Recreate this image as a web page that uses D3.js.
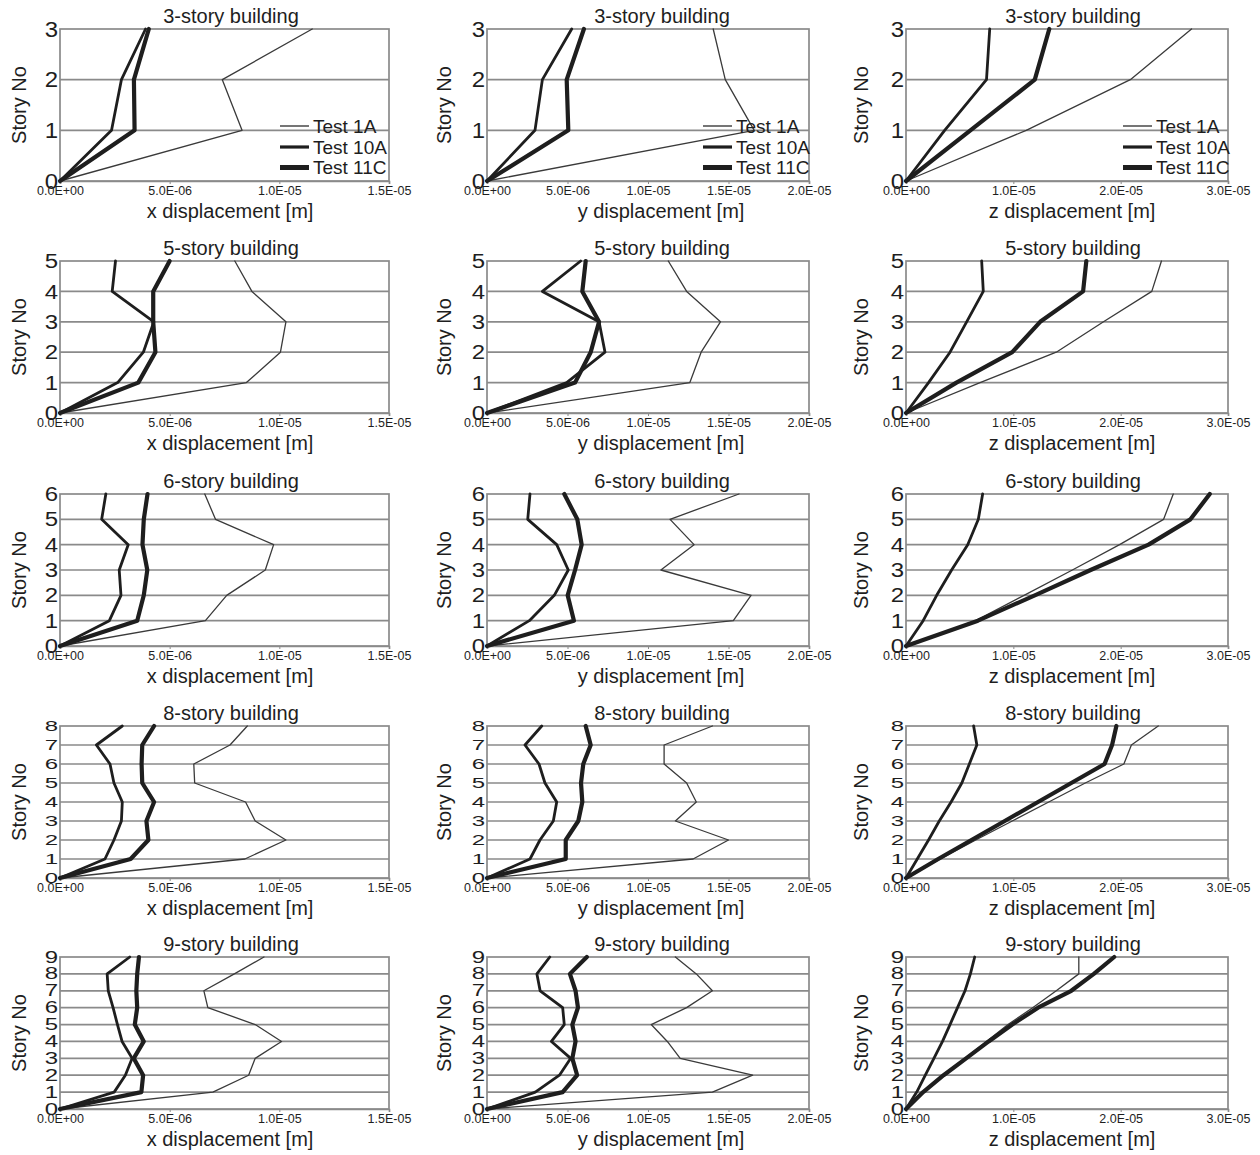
<!DOCTYPE html>
<html><head><meta charset="utf-8">
<script src="https://cdn.jsdelivr.net/npm/d3@7"></script>
<style>
body{margin:0;background:#fff}
svg{display:block}
text{font-family:"Liberation Sans",Arial,sans-serif;fill:#1e1e1e}
</style>
</head><body>
<svg id="c" width="1260" height="1155"></svg>
<script>
// ---------- DATA ----------
const seriesNames = ["Test 1A", "Test 10A", "Test 11C"];
const buildings = [3, 5, 6, 8, 9];
const directions = ["x", "y", "z"];
const xMaxByDir = [1.5e-5, 2.0e-5, 3.0e-5];
const xTickValsX = [0, 5e-6, 1e-5, 1.5e-5];
const xTickValsY = [0, 5e-6, 1e-5, 1.5e-5, 2e-5];
const xTickValsZ = [0, 1e-5, 2e-5, 3e-5];
const xTickLabelsX = ["0.0E+00", "5.0E-06", "1.0E-05", "1.5E-05"];
const xTickLabelsY = ["0.0E+00", "5.0E-06", "1.0E-05", "1.5E-05", "2.0E-05"];
const xTickLabelsZ = ["0.0E+00", "1.0E-05", "2.0E-05", "3.0E-05"];

// 3-story
const x3_1A  = [0, 8.3e-6, 7.4e-6, 11.5e-6];
const x3_10A = [0, 2.35e-6, 2.8e-6, 3.9e-6];
const x3_11C = [0, 3.4e-6, 3.37e-6, 4.05e-6];
const y3_1A  = [0, 16.6e-6, 14.8e-6, 14.05e-6];
const y3_10A = [0, 2.98e-6, 3.44e-6, 5.26e-6];
const y3_11C = [0, 5.05e-6, 4.95e-6, 6.02e-6];
const z3_1A  = [0, 11.2e-6, 20.9e-6, 26.6e-6];
const z3_10A = [0, 3.6e-6, 7.5e-6, 7.8e-6];
const z3_11C = [0, 6.0e-6, 12.0e-6, 13.35e-6];
// 5-story
const x5_1A  = [0, 8.5e-6, 10.05e-6, 10.3e-6, 8.75e-6, 7.97e-6];
const x5_10A = [0, 2.63e-6, 3.8e-6, 4.28e-6, 2.38e-6, 2.53e-6];
const x5_11C = [0, 3.57e-6, 4.35e-6, 4.25e-6, 4.25e-6, 5.0e-6];
const y5_1A  = [0, 12.6e-6, 13.3e-6, 14.5e-6, 12.4e-6, 11.26e-6];
const y5_10A = [0, 4.95e-6, 7.33e-6, 6.96e-6, 3.44e-6, 5.82e-6];
const y5_11C = [0, 5.47e-6, 6.44e-6, 6.96e-6, 5.92e-6, 6.13e-6];
const z5_1A  = [0, 6.9e-6, 14.0e-6, 18.4e-6, 22.9e-6, 23.8e-6];
const z5_10A = [0, 2.1e-6, 4.1e-6, 5.65e-6, 7.2e-6, 7.05e-6];
const z5_11C = [0, 4.7e-6, 9.9e-6, 12.5e-6, 16.5e-6, 16.8e-6];
// 6-story
const x6_1A  = [0, 6.63e-6, 7.6e-6, 9.36e-6, 9.74e-6, 7.09e-6, 6.6e-6];
const x6_10A = [0, 2.25e-6, 2.78e-6, 2.7e-6, 3.11e-6, 1.9e-6, 2.09e-6];
const x6_11C = [0, 3.52e-6, 3.82e-6, 3.98e-6, 3.76e-6, 3.82e-6, 3.99e-6];
const y6_1A  = [0, 15.3e-6, 16.4e-6, 10.8e-6, 12.86e-6, 11.37e-6, 15.65e-6];
const y6_10A = [0, 2.63e-6, 4.18e-6, 5.05e-6, 4.33e-6, 2.53e-6, 2.67e-6];
const y6_11C = [0, 5.4e-6, 5.01e-6, 5.47e-6, 5.88e-6, 5.61e-6, 4.8e-6];
const z6_1A  = [0, 6.5e-6, 11.0e-6, 15.5e-6, 19.9e-6, 24.0e-6, 24.9e-6];
const z6_10A = [0, 1.6e-6, 2.86e-6, 4.25e-6, 5.75e-6, 6.74e-6, 7.14e-6];
const z6_11C = [0, 6.7e-6, 12.0e-6, 17.2e-6, 22.6e-6, 26.5e-6, 28.3e-6];
// 8-story
const x8_1A  = [0, 8.43e-6, 10.3e-6, 8.9e-6, 8.46e-6, 6.14e-6, 6.1e-6, 7.75e-6, 8.54e-6];
const x8_10A = [0, 2.05e-6, 2.46e-6, 2.8e-6, 2.84e-6, 2.46e-6, 2.28e-6, 1.66e-6, 2.84e-6];
const x8_11C = [0, 3.22e-6, 4.03e-6, 3.94e-6, 4.29e-6, 3.75e-6, 3.72e-6, 3.75e-6, 4.29e-6];
const y8_1A  = [0, 12.8e-6, 15.0e-6, 11.7e-6, 13.0e-6, 12.4e-6, 11.0e-6, 11.0e-6, 14.0e-6];
const y8_10A = [0, 2.67e-6, 3.29e-6, 4.12e-6, 4.33e-6, 3.6e-6, 3.23e-6, 2.36e-6, 3.4e-6];
const y8_11C = [0, 4.89e-6, 4.89e-6, 5.67e-6, 5.92e-6, 5.84e-6, 5.98e-6, 6.44e-6, 6.13e-6];
const z8_1A  = [0, 3.2e-6, 6.5e-6, 9.9e-6, 13.3e-6, 16.7e-6, 20.3e-6, 21.0e-6, 23.5e-6];
const z8_10A = [0, 1.05e-6, 2.1e-6, 3.1e-6, 4.2e-6, 5.2e-6, 5.9e-6, 6.6e-6, 6.3e-6];
const z8_11C = [0, 3.0e-6, 6.1e-6, 9.2e-6, 12.3e-6, 15.4e-6, 18.5e-6, 19.2e-6, 19.6e-6];
// 9-story
const x9_1A  = [0, 6.97e-6, 8.6e-6, 8.9e-6, 10.1e-6, 8.9e-6, 6.74e-6, 6.56e-6, 7.95e-6, 9.3e-6];
const x9_10A = [0, 2.47e-6, 2.98e-6, 3.29e-6, 2.83e-6, 2.62e-6, 2.42e-6, 2.2e-6, 2.15e-6, 3.18e-6];
const x9_11C = [0, 3.71e-6, 3.79e-6, 3.36e-6, 3.82e-6, 3.41e-6, 3.52e-6, 3.48e-6, 3.52e-6, 3.6e-6];
const y9_1A  = [0, 14.0e-6, 16.5e-6, 12.0e-6, 11.2e-6, 10.2e-6, 12.4e-6, 14.0e-6, 13.0e-6, 11.7e-6];
const y9_10A = [0, 3.0e-6, 4.5e-6, 5.2e-6, 4.0e-6, 4.8e-6, 4.7e-6, 3.3e-6, 3.1e-6, 3.9e-6];
const y9_11C = [0, 4.7e-6, 5.6e-6, 5.3e-6, 5.5e-6, 5.3e-6, 5.65e-6, 5.5e-6, 5.15e-6, 6.2e-6];
const z9_1A  = [0, 1.7e-6, 3.5e-6, 5.5e-6, 7.5e-6, 9.5e-6, 11.8e-6, 14.0e-6, 16.1e-6, 16.1e-6];
const z9_10A = [0, 1.0e-6, 1.8e-6, 2.6e-6, 3.4e-6, 4.1e-6, 4.8e-6, 5.5e-6, 6.0e-6, 6.4e-6];
const z9_11C = [0, 1.6e-6, 3.5e-6, 5.6e-6, 7.7e-6, 9.9e-6, 12.3e-6, 15.4e-6, 17.5e-6, 19.4e-6];

// table built from the arrays above
const dataTable = [
  [[x3_1A, x3_10A, x3_11C], [y3_1A, y3_10A, y3_11C], [z3_1A, z3_10A, z3_11C]],
  [[x5_1A, x5_10A, x5_11C], [y5_1A, y5_10A, y5_11C], [z5_1A, z5_10A, z5_11C]],
  [[x6_1A, x6_10A, x6_11C], [y6_1A, y6_10A, y6_11C], [z6_1A, z6_10A, z6_11C]],
  [[x8_1A, x8_10A, x8_11C], [y8_1A, y8_10A, y8_11C], [z8_1A, z8_10A, z8_11C]],
  [[x9_1A, x9_10A, x9_11C], [y9_1A, y9_10A, y9_11C], [z9_1A, z9_10A, z9_11C]]
];
const tickValsByDir = [xTickValsX, xTickValsY, xTickValsZ];
const tickLabelsByDir = [xTickLabelsX, xTickLabelsY, xTickLabelsZ];

// ---------- LAYOUT ----------
const colLeft = [60, 487, 906], colRight = [389, 809, 1228];
const rowTop = [29, 261, 494, 726, 957], plotH = 152;
const titleCx = [231, 662, 1073], labelCx = [230, 661, 1072];
const storyLabelX = [19, 444, 861];
const digitScale = [0.95, 0.88, 0.83, 0.63, 0.66];
const legendX = [280, 703, 1123];
const legendY = [126, 147, 167.5];
const lineW = [1.3, 2.8, 4.2];
const legendW = [1.4, 3.2, 5];
const lineC = ["#3a3a3a", "#1e1e1e", "#1e1e1e"];
const gridC = "#8a8a8a";

const svg = d3.select("#c");

buildings.forEach((n, r) => {
  const stories = d3.range(0, n + 1);
  directions.forEach((dir, c) => {
    const g = svg.append("g");
    const x = d3.scaleLinear().domain([0, xMaxByDir[c]]).range([colLeft[c], colRight[c]]);
    const y = d3.scaleLinear().domain([0, n]).range([rowTop[r] + plotH, rowTop[r]]);

    // gridlines
    g.append("g").selectAll("line").data(stories.slice(1, -1)).join("line")
      .attr("x1", x(0)).attr("x2", x(xMaxByDir[c]))
      .attr("y1", d => y(d)).attr("y2", d => y(d))
      .attr("stroke", gridC).attr("stroke-width", 1.7);
    // frame
    g.append("rect").attr("x", x(0)).attr("y", y(n))
      .attr("width", x(xMaxByDir[c]) - x(0)).attr("height", y(0) - y(n))
      .attr("fill", "none").attr("stroke", gridC).attr("stroke-width", 1.7);

    // x axis
    const labs = tickLabelsByDir[c];
    const ax = g.append("g").attr("transform", `translate(0,${y(0)})`)
      .call(d3.axisBottom(x).tickValues(tickValsByDir[c]).tickFormat((d, i) => labs[i]).tickSize(3).tickPadding(2));
    ax.select(".domain").attr("stroke", gridC).attr("stroke-width", 1.7);
    ax.selectAll(".tick line").attr("stroke", gridC);
    ax.selectAll(".tick text").attr("font-size", 12.5).attr("fill", "#333")
      .attr("font-family", '"Liberation Sans",Arial,sans-serif');

    // y axis
    const ay = g.append("g").attr("transform", `translate(${x(0)},0)`)
      .call(d3.axisLeft(y).tickValues(stories).tickFormat(d3.format("d")).tickSize(0).tickPadding(2));
    ay.select(".domain").remove();
    ay.selectAll(".tick text").attr("font-size", 24).attr("fill", "#1e1e1e")
      .attr("font-family", '"Liberation Sans",Arial,sans-serif')
      .attr("transform", `scale(1,${digitScale[r]})`);

    // title
    g.append("text").attr("x", titleCx[c]).attr("y", rowTop[r] - 6)
      .attr("text-anchor", "middle").attr("font-size", 20)
      .text(`${n}-story building`);
    // x label
    g.append("text").attr("x", labelCx[c]).attr("y", y(0) + 37)
      .attr("text-anchor", "middle").attr("font-size", 20)
      .text(`${dir} displacement [m]`);
    // y label
    const cy = (y(0) + y(n)) / 2;
    g.append("text").attr("transform", `translate(${storyLabelX[c]},${cy}) rotate(-90)`)
      .attr("text-anchor", "middle").attr("dominant-baseline", "central").attr("font-size", 20)
      .text("Story No");

    // lines
    const line = d3.line().x(d => x(d)).y((d, i) => y(stories[i]));
    dataTable[r][c].forEach((vals, s) => {
      g.append("path").attr("d", line(vals)).attr("fill", "none")
        .attr("stroke", lineC[s]).attr("stroke-width", lineW[s])
        .attr("stroke-linejoin", "round").attr("stroke-linecap", "round");
    });

    // legend (first row only)
    if (r === 0) {
      const lg = g.append("g");
      seriesNames.forEach((name, s) => {
        lg.append("line").attr("x1", legendX[c]).attr("x2", legendX[c] + 29)
          .attr("y1", legendY[s]).attr("y2", legendY[s])
          .attr("stroke", lineC[s]).attr("stroke-width", legendW[s]);
        lg.append("text").attr("x", legendX[c] + 33).attr("y", legendY[s])
          .attr("dominant-baseline", "central").attr("font-size", 19).text(name);
      });
    }
  });
});
</script>
</body></html>
